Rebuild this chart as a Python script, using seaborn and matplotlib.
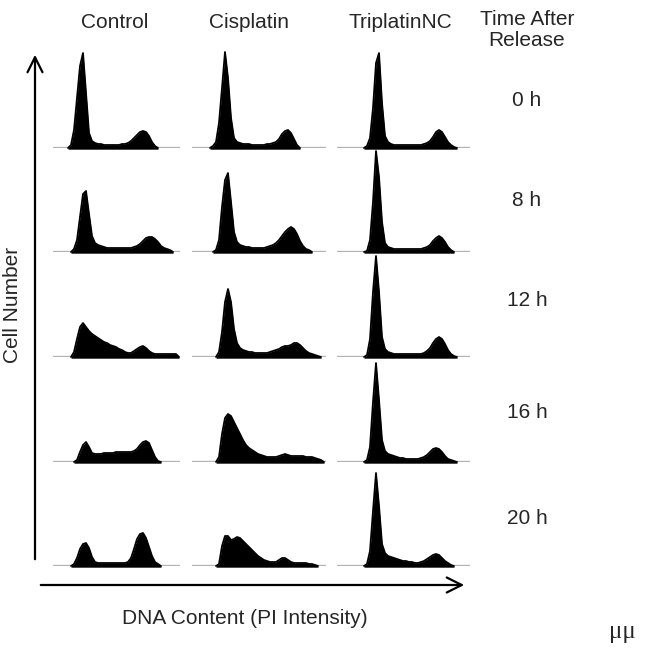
import numpy as np
import seaborn as sns
import matplotlib.pyplot as plt

sns.set_theme(style="white")
plt.rcParams["font.family"] = ["Liberation Sans", "DejaVu Sans"]

# cell-cycle histograms, DNA content channel vs. cell count (scaled 0-100)
channels = np.arange(0, 135, 3)

treatments = ["Control", "Cisplatin", "TriplatinNC"]
times = ["0 h", "8 h", "12 h", "16 h", "20 h"]

control_0h = [0, 0, 0, 0, 0, 0, 3, 18, 50, 82, 95, 55, 15, 7, 5, 4, 4, 3, 3, 3, 3, 3, 3, 4, 4,
              5, 7, 10, 13, 16, 17, 16, 12, 6, 2, 0, 0, 0, 0, 0, 0, 0, 0, 0, 0]
control_8h = [0, 0, 0, 0, 0, 0, 0, 3, 12, 35, 58, 61, 38, 16, 9, 7, 6, 5, 4, 4, 4, 4, 4, 4, 4,
              4, 4, 5, 6, 8, 11, 14, 15, 15, 13, 10, 6, 4, 3, 2, 0, 0, 0, 0, 0]
control_12h = [0, 0, 0, 0, 0, 0, 0, 5, 18, 30, 34, 30, 26, 23, 21, 19, 17, 15, 14, 12, 11, 10, 8,
               7, 5, 4, 4, 6, 8, 10, 11, 9, 6, 4, 3, 3, 3, 3, 3, 3, 3, 3, 0, 0, 0]
control_16h = [0, 0, 0, 0, 0, 0, 0, 0, 2, 10, 17, 20, 15, 9, 8, 8, 8, 9, 9, 9, 9, 10, 10, 10,
               10, 10, 10, 11, 13, 17, 20, 21, 19, 12, 5, 1, 0, 0, 0, 0, 0, 0, 0, 0, 0]
control_20h = [0, 0, 0, 0, 0, 0, 0, 2, 8, 17, 22, 23, 18, 9, 4, 3, 3, 3, 3, 3, 3, 3, 3, 3, 3,
               4, 8, 17, 27, 32, 33, 28, 19, 10, 4, 2, 0, 0, 0, 0, 0, 0, 0, 0, 0]

cisplatin_0h = [0, 0, 0, 0, 0, 0, 0, 2, 6, 25, 60, 96, 70, 30, 10, 6, 5, 4, 4, 4, 3, 3, 3, 3,
                3, 4, 4, 5, 6, 9, 14, 17, 18, 15, 9, 3, 0, 0, 0, 0, 0, 0, 0, 0, 0]
cisplatin_8h = [0, 0, 0, 0, 0, 0, 0, 0, 2, 12, 45, 72, 79, 50, 20, 10, 7, 6, 5, 5, 4, 4, 4, 4,
                4, 5, 6, 7, 9, 12, 16, 20, 23, 25, 23, 18, 11, 6, 3, 2, 0, 0, 0, 0, 0]
cisplatin_12h = [0, 0, 0, 0, 0, 0, 0, 0, 0, 5, 25, 55, 68, 55, 28, 14, 9, 7, 6, 5, 5, 4, 4, 4,
                 4, 4, 5, 6, 7, 8, 10, 11, 11, 12, 14, 14, 12, 9, 6, 4, 3, 2, 1, 0, 0]
cisplatin_16h = [0, 0, 0, 0, 0, 0, 0, 0, 0, 5, 28, 44, 48, 46, 40, 34, 28, 22, 17, 14, 12, 10, 8,
                 7, 6, 5, 5, 5, 5, 6, 7, 8, 7, 6, 6, 6, 6, 6, 5, 5, 5, 4, 3, 2, 0]
cisplatin_20h = [0, 0, 0, 0, 0, 0, 0, 0, 0, 2, 20, 30, 30, 26, 27, 29, 28, 25, 22, 19, 16, 13, 10,
                 8, 6, 5, 4, 4, 4, 6, 8, 8, 6, 4, 3, 3, 3, 3, 3, 2, 2, 1, 0, 0, 0]

triplatin_0h = [0, 0, 0, 0, 0, 0, 0, 0, 0, 0, 2, 10, 40, 85, 95, 45, 12, 6, 4, 3, 3, 3, 3, 3, 3,
                3, 3, 3, 3, 4, 5, 7, 11, 16, 18, 16, 11, 6, 3, 1, 0, 0, 0, 0, 0]
triplatin_8h = [0, 0, 0, 0, 0, 0, 0, 0, 0, 0, 1, 12, 50, 101, 75, 30, 9, 5, 4, 3, 3, 3, 3, 3, 3,
                3, 3, 3, 3, 4, 5, 7, 11, 14, 16, 14, 10, 5, 2, 0, 0, 0, 0, 0, 0]
triplatin_12h = [0, 0, 0, 0, 0, 0, 0, 0, 0, 0, 2, 18, 65, 101, 65, 20, 8, 5, 4, 3, 3, 3, 3, 3, 3,
                 3, 3, 3, 3, 4, 6, 9, 14, 18, 20, 18, 13, 7, 3, 1, 0, 0, 0, 0, 0]
triplatin_16h = [0, 0, 0, 0, 0, 0, 0, 0, 0, 0, 2, 15, 60, 99, 62, 22, 11, 8, 7, 6, 5, 4, 4, 3, 3,
                 3, 3, 3, 4, 5, 7, 10, 13, 14, 13, 10, 6, 3, 2, 1, 0, 0, 0, 0, 0]
triplatin_20h = [0, 0, 0, 0, 0, 0, 0, 0, 0, 0, 2, 15, 55, 93, 60, 22, 13, 10, 9, 8, 7, 6, 5, 5,
                 4, 4, 3, 3, 4, 5, 7, 9, 11, 12, 11, 8, 5, 3, 1, 0, 0, 0, 0, 0, 0]

grid = [
    [control_0h, cisplatin_0h, triplatin_0h],
    [control_8h, cisplatin_8h, triplatin_8h],
    [control_12h, cisplatin_12h, triplatin_12h],
    [control_16h, cisplatin_16h, triplatin_16h],
    [control_20h, cisplatin_20h, triplatin_20h],
]

W, H = 657, 649
fig = plt.figure(figsize=(W / 100, H / 100), dpi=100)

# panel placement in pixels
col_left = [53, 192, 337]
col_width = [127, 134, 133]
row_base = [148, 252, 357, 462, 566]
panel_h = 100

for r, row in enumerate(grid):
    for c, counts in enumerate(row):
        ax = fig.add_axes([col_left[c] / W, (H - row_base[r]) / H,
                           col_width[c] / W, panel_h / H])
        h = np.array(counts, dtype=float)
        ax.axhline(0, color="#b3b3b3", lw=2.4, zorder=1)
        mask = np.convolve(h > 0, [1, 1, 1], mode="same") > 0
        ax.fill_between(channels, -1.2, h, where=mask, color="black", lw=0,
                        zorder=2, clip_on=False)
        sns.lineplot(x=channels[mask], y=h[mask], ax=ax, color="black", lw=1.3,
                     zorder=3, clip_on=False)
        ax.set_xlim(0, col_width[c])
        ax.set_ylim(0, panel_h)
        ax.axis("off")

# overlay for labels and arrows
ov = fig.add_axes([0, 0, 1, 1], zorder=-1)
ov.set_xlim(0, W)
ov.set_ylim(H, 0)
ov.axis("off")

title_x = [115, 249, 400]
for t, x in zip(treatments, title_x):
    ov.text(x, 22, t, ha="center", va="center", fontsize=15)
ov.text(527, 30, "Time After\nRelease", ha="center", va="center", fontsize=15,
        linespacing=1.1)

time_y = [100, 200, 300, 413, 519]
for t, y in zip(times, time_y):
    ov.text(527, y, t, ha="center", va="center", fontsize=15)

arrow = dict(arrowstyle="->,head_length=0.9,head_width=0.45", lw=1.6, color="black")
ov.annotate("", xy=(35, 52), xytext=(35, 562), arrowprops=arrow)
ov.annotate("", xy=(467, 585), xytext=(38, 585), arrowprops=arrow)

ov.text(13, 305, "Cell Number", rotation=90, ha="center", va="center", fontsize=15)
ov.text(245, 618, "DNA Content (PI Intensity)", ha="center", va="center", fontsize=15)
ov.text(622, 632, "\u03bc\u03bc", ha="center", va="center", fontsize=18,
        family=["Liberation Serif", "DejaVu Serif"])

fig.savefig("out.png", dpi=100)
